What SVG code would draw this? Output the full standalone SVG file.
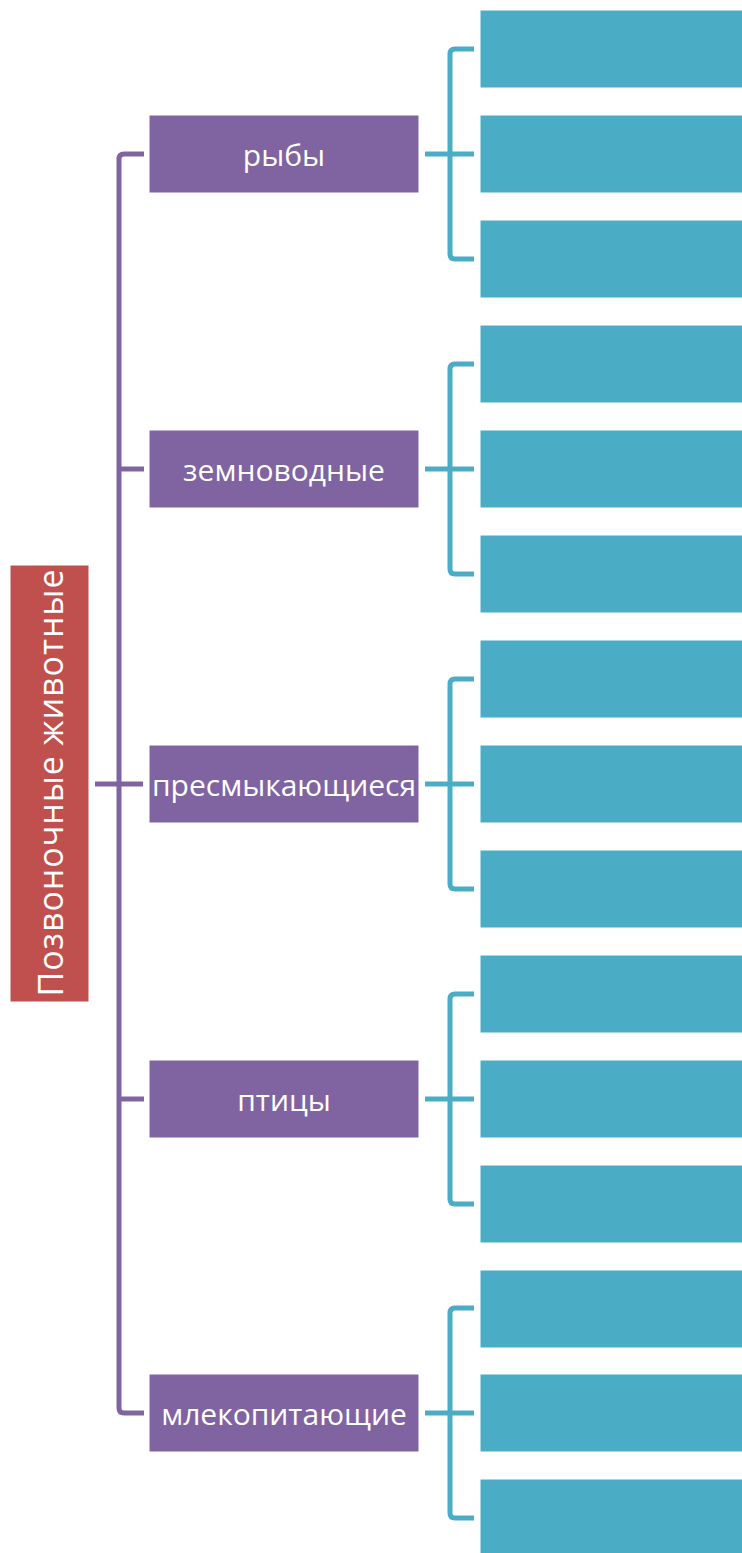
<svg xmlns="http://www.w3.org/2000/svg" width="742" height="1553" viewBox="0 0 742 1553">
  <style>
    .root { fill: #C0504D; stroke: #ffffff; stroke-width: 1; }
    .cat { fill: #8064A2; stroke: #ffffff; stroke-width: 1; }
    .leaf { fill: #4BACC6; stroke: #ffffff; stroke-width: 1; }
    .lbl { fill: #ffffff; font-family: "Open Sans", "DejaVu Sans", sans-serif; font-size: 30px; text-anchor: middle; dominant-baseline: central; }
    .link-p { fill: none; stroke: #8064A2; stroke-width: 5; stroke-linejoin: round; }
    .link-t { fill: none; stroke: #4BACC6; stroke-width: 5; stroke-linejoin: round; }
  </style>
  <rect width="742" height="1553" fill="#ffffff"/>

  <!-- connectors -->
  <g id="connectors">
    <!-- root to categories -->
    <path class="link-p" d="M95,784 H143"/>
    <path class="link-p" d="M144,154 H124 Q119,154 119,159 V1408 Q119,1413 124,1413 H144"/>
    <path class="link-p" d="M119,469 H144"/>
    <path class="link-p" d="M119,1099 H144"/>
    <!-- categories to leaves -->
    <g id="links-fish">
      <path class="link-t" d="M425,154 H474"/>
      <path class="link-t" d="M474,49 H455 Q450,49 450,54 V254 Q450,259 455,259 H474"/>
    </g>
    <g id="links-amphibians">
      <path class="link-t" d="M425,469 H474"/>
      <path class="link-t" d="M474,364 H455 Q450,364 450,369 V569 Q450,574 455,574 H474"/>
    </g>
    <g id="links-reptiles">
      <path class="link-t" d="M425,784 H474"/>
      <path class="link-t" d="M474,679 H455 Q450,679 450,684 V884 Q450,889 455,889 H474"/>
    </g>
    <g id="links-birds">
      <path class="link-t" d="M425,1099 H474"/>
      <path class="link-t" d="M474,994 H455 Q450,994 450,999 V1199 Q450,1204 455,1204 H474"/>
    </g>
    <g id="links-mammals">
      <path class="link-t" d="M425,1413 H474"/>
      <path class="link-t" d="M474,1308 H455 Q450,1308 450,1313 V1513 Q450,1518 455,1518 H474"/>
    </g>
  </g>

  <!-- root node -->
  <g id="root">
    <rect class="root" x="10" y="565" width="79" height="437"/>
    <text class="lbl" x="0" y="0" transform="translate(50,783) rotate(-90)" style="font-size:34px" textLength="427" lengthAdjust="spacing">Позвоночные животные</text>
  </g>

  <!-- category nodes -->
  <g id="cat-fish">
    <rect class="cat" x="149" y="115" width="270" height="78"/>
    <text class="lbl" x="284" y="154">рыбы</text>
  </g>
  <g id="cat-amphibians">
    <rect class="cat" x="149" y="430" width="270" height="78"/>
    <text class="lbl" x="284" y="469">земноводные</text>
  </g>
  <g id="cat-reptiles">
    <rect class="cat" x="149" y="745" width="270" height="78"/>
    <text class="lbl" x="284" y="784">пресмыкающиеся</text>
  </g>
  <g id="cat-birds">
    <rect class="cat" x="149" y="1060" width="270" height="78"/>
    <text class="lbl" x="284" y="1099">птицы</text>
  </g>
  <g id="cat-mammals">
    <rect class="cat" x="149" y="1374" width="270" height="78"/>
    <text class="lbl" x="284" y="1413">млекопитающие</text>
  </g>

  <!-- empty leaf nodes -->
  <g id="leaf-fish-1"><rect class="leaf" x="480" y="10" width="263" height="78"/></g>
  <g id="leaf-fish-2"><rect class="leaf" x="480" y="115" width="263" height="78"/></g>
  <g id="leaf-fish-3"><rect class="leaf" x="480" y="220" width="263" height="78"/></g>
  <g id="leaf-amphibians-1"><rect class="leaf" x="480" y="325" width="263" height="78"/></g>
  <g id="leaf-amphibians-2"><rect class="leaf" x="480" y="430" width="263" height="78"/></g>
  <g id="leaf-amphibians-3"><rect class="leaf" x="480" y="535" width="263" height="78"/></g>
  <g id="leaf-reptiles-1"><rect class="leaf" x="480" y="640" width="263" height="78"/></g>
  <g id="leaf-reptiles-2"><rect class="leaf" x="480" y="745" width="263" height="78"/></g>
  <g id="leaf-reptiles-3"><rect class="leaf" x="480" y="850" width="263" height="78"/></g>
  <g id="leaf-birds-1"><rect class="leaf" x="480" y="955" width="263" height="78"/></g>
  <g id="leaf-birds-2"><rect class="leaf" x="480" y="1060" width="263" height="78"/></g>
  <g id="leaf-birds-3"><rect class="leaf" x="480" y="1165" width="263" height="78"/></g>
  <g id="leaf-mammals-1"><rect class="leaf" x="480" y="1270" width="263" height="78"/></g>
  <g id="leaf-mammals-2"><rect class="leaf" x="480" y="1374" width="263" height="78"/></g>
  <g id="leaf-mammals-3"><rect class="leaf" x="480" y="1479" width="263" height="78"/></g>
</svg>
